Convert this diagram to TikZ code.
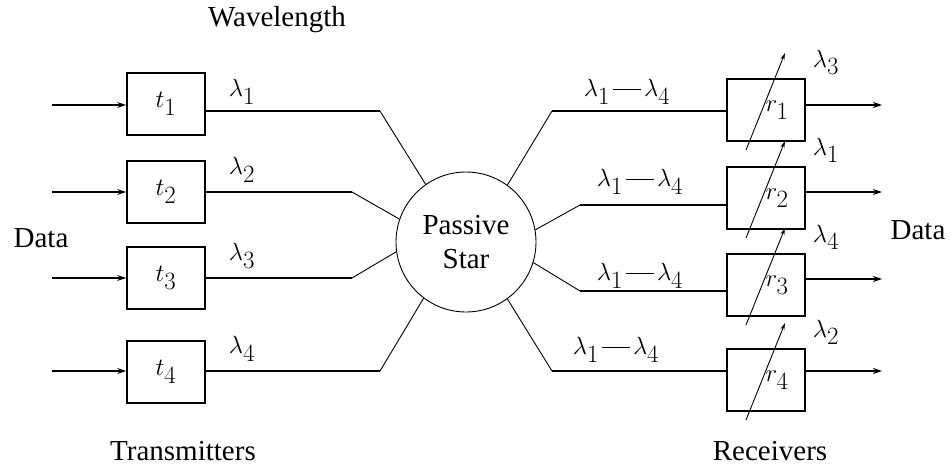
\documentclass[tikz,border=0pt]{standalone}
\usepackage{fontspec}
\setmainfont{Liberation Serif}
\usetikzlibrary{arrows.meta}
\newcommand{\wlen}[1]{$\lambda_{\textstyle #1}$}
\begin{document}
\begin{tikzpicture}[>={Stealth[length=9pt,width=6pt]},x=1pt,y=-1pt,
	box/.style={draw,line width=1.8pt,minimum width=78pt,minimum height=62pt,inner sep=0pt,font=\fontsize{24}{26}\selectfont},
	fibre/.style={line width=1.4pt},
	branch/.style={line width=0.9pt},
	tune/.style={line width=0.9pt,-{Stealth[length=7pt,width=4pt]}},
	txt/.style={font=\fontsize{29}{34}\selectfont},
	wl/.style={font=\fontsize{24}{26}\selectfont,inner sep=0pt}]
	\useasboundingbox (0,0) rectangle (951,466);
	\node[circle,draw,line width=0.9pt,minimum size=140pt,inner sep=0pt,align=center,txt] (star) at (466,242) {Passive\\Star};
	%Transmitters
	\foreach \i/\y/\a in {1/104/105,2/192/192,3/278/278,4/372/371}{
		\node[box] (t\i) at (166,\y) {$t_{\textstyle\i}$\hspace{6pt}};
		\coordinate (in\i) at (52,\a);
		\draw[fibre,->] (in\i) -- (in\i -| t\i.west);
	}
	\foreach \i/\x/\y/\g in {1/380/111/125,2/352/192/161,3/352/278/188,4/380/371/233}{
		\coordinate (b\i) at (\x,\y);
		\draw[fibre] (t\i.east |- b\i) -- (b\i);
		\draw[branch] (b\i) -- (star.\g);
	}
	\foreach \i/\y in {1/92,2/170,3/256,4/349}
		\node[wl] (l\i) at (242,\y) {\wlen{\i}};
	%Receivers
	\foreach \i/\y/\l in {1/110/3,2/198/1,3/285/4,4/380/2}{
		\node[box] (r\i) at (766,\y) {\hspace{22pt}$r_{\textstyle\i}$};
		\draw[tune] ([shift={(-20,40)}]r\i.center) -- ([shift={(19,-57)}]r\i.center);
		\node[wl] (s\i) at ([shift={(20,-16)}]r\i.north east) {\wlen{\l}};
	}
	\foreach \i/\x/\y/\g in {1/552/111/54,2/580/205/10,3/580/291/-17,4/552/371/-54}{
		\coordinate (c\i) at (\x,\y);
		\draw[branch] (star.\g) -- (c\i);
		\draw[fibre] (c\i) -- (c\i -| r\i.west);
	}
	\foreach \i/\y in {1/105,2/192,3/279,4/371}{
		\coordinate (out\i) at (882,\y);
		\draw[fibre,->] (out\i -| r\i.east) -- (out\i);
	}
	\foreach \i/\x/\y in {1/627/92,2/640/182,3/640/276,4/616/350}
		\node[wl] (g\i) at (\x,\y) {\wlen{1}\hspace{3pt}\rule[7pt]{28pt}{1pt}\hspace{3pt}\wlen{4}};
	\node[txt,anchor=base] (wave) at (277,26) {Wavelength};
	\node[txt] (din) at (41,238) {Data};
	\node[txt] (dout) at (918,230) {Data};
	\node[txt,anchor=base] (tx) at (183,460) {Transmitters};
	\node[txt,anchor=base] (rx) at (770,460) {Receivers};
\end{tikzpicture}
\end{document}
